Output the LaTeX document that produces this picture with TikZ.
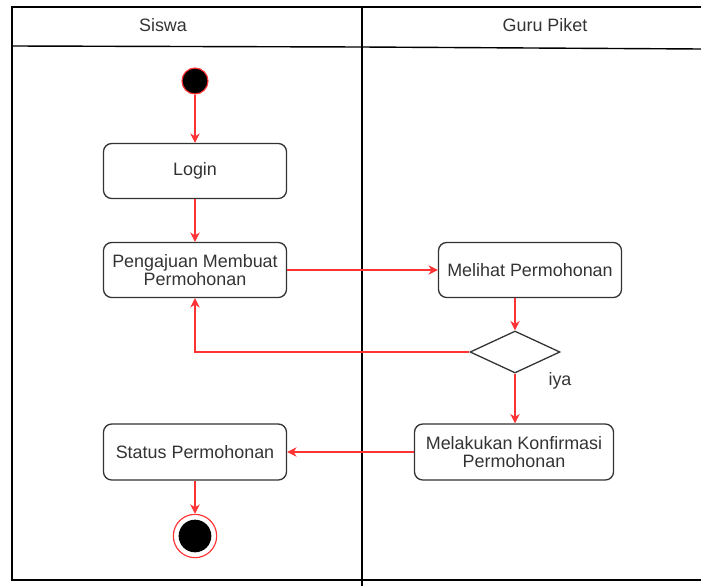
\documentclass[tikz,border=0pt]{standalone}
\usepackage{fontspec}
\setmainfont{Liberation Sans}
\usetikzlibrary{arrows.meta,shapes.geometric}
\definecolor{alur}{HTML}{FF3333}
\definecolor{garis}{HTML}{333333}

\begin{document}
\begin{tikzpicture}[x=0.03cm, y=-0.03cm,
    font=\fontsize{15.3}{16}\selectfont,
    aksi/.style={rectangle, rounded corners=7pt, draw=garis, line width=1.1pt, text=garis, align=center, minimum width=5.49cm, minimum height=1.65cm, inner sep=1pt},
    cabang/.style={diamond, draw=garis, line width=1.1pt, minimum width=2.7cm, minimum height=1.26cm, inner sep=0pt},
    panah/.style={draw=alur, line width=1pt, -{Stealth[length=8pt, width=8pt, inset=2.5pt]}},
    jalur/.style={draw=black, line width=1.2pt},
    judul/.style={text=garis}]
    \useasboundingbox (0,0) rectangle (701,586);
    \draw[jalur] (701,7) -- (12,7) -- (12,580) -- (701,580);
    \draw[jalur] (362,7) -- (362,586);
    \draw[jalur] (12,46) -- (362,47) -- (701,49);
    \node[judul] (siswa) at (163,25) {Siswa};
    \node[judul] (guru) at (545,25) {Guru Piket};

    \node[circle, draw=alur, fill=black, line width=1pt, minimum size=0.78cm, inner sep=0pt] (mulai) at (195,81) {};
    \node[aksi] (login) at (195,171) {Login};
    \node[aksi] (ajukan) at (195,270) {Pengajuan Membuat\\Permohonan};
    \node[aksi] (lihat) at (530,270) {Melihat Permohonan};
    \node[cabang] (cek) at (515,352) {};
    \node[judul] (iya) at (560,381) {iya};
    \node[aksi, minimum width=5.97cm, minimum height=1.68cm] (konfirmasi) at (514,452) {Melakukan Konfirmasi\\Permohonan};
    \node[aksi, minimum height=1.68cm] (status) at (195,452) {Status Permohonan};
    \node[circle, draw=alur, line width=1pt, minimum size=1.3cm, inner sep=0pt] (selesai) at (195,536) {};
    \node[circle, fill=black, minimum size=0.98cm, inner sep=0pt] (selesaiisi) at (195,536) {};

    \draw[panah] (mulai) -- (login);
    \draw[panah] (login) -- (ajukan);
    \draw[panah] (ajukan) -- (lihat);
    \draw[panah] (lihat.south -| cek.north) -- (cek.north);
    \draw[panah] (cek.west) -| (ajukan.south);
    \draw[panah] (cek.south) -- (cek.south |- konfirmasi.north);
    \draw[panah] (konfirmasi) -- (status);
    \draw[panah] (status) -- (selesai);
\end{tikzpicture}
\end{document}
